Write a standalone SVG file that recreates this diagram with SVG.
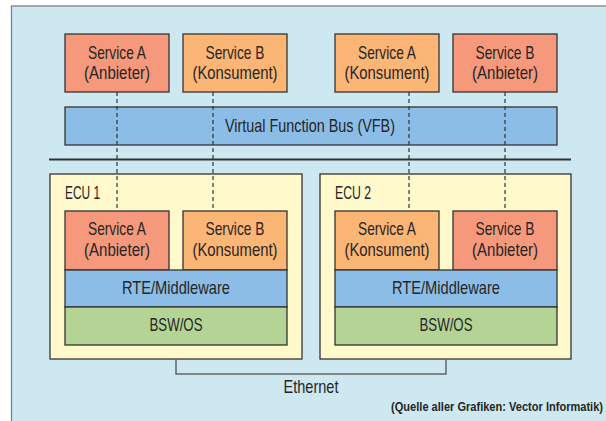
<svg xmlns="http://www.w3.org/2000/svg" width="606" height="421" viewBox="0 0 606 421">
<style>
text{font-family:"Liberation Sans Narrow","Liberation Sans",Arial,sans-serif;font-size:19px;fill:#262626;text-anchor:middle}
.box{stroke:#333;stroke-width:1.3}
.anb{fill:#f5987b}
.kon{fill:#fbb574}
.blue{fill:#8bbde6}
.green{fill:#b3d495}
.ecu{fill:#fff9cc}
.dash{stroke:#333;stroke-width:1.2;stroke-dasharray:4 3;fill:none}
.lbl{text-anchor:start}
.src{font-weight:bold;font-size:13.5px;text-anchor:end}
</style>
<rect x="11.5" y="6" width="600" height="420" fill="#cde8f0" stroke="#808080" stroke-width="1.3"/>
<g id="top-service-a-anbieter"><rect class="box anb" x="65" y="34" width="104" height="58"/><text x="117" y="59" textLength="58" lengthAdjust="spacingAndGlyphs">Service A</text><text x="117" y="79" textLength="66" lengthAdjust="spacingAndGlyphs">(Anbieter)</text></g>
<g id="top-service-b-konsument"><rect class="box kon" x="183" y="34" width="104" height="58"/><text x="235" y="59" textLength="59" lengthAdjust="spacingAndGlyphs">Service B</text><text x="235" y="79" textLength="85" lengthAdjust="spacingAndGlyphs">(Konsument)</text></g>
<g id="top-service-a-konsument"><rect class="box kon" x="335" y="34" width="104" height="58"/><text x="387" y="59" textLength="58" lengthAdjust="spacingAndGlyphs">Service A</text><text x="387" y="79" textLength="85" lengthAdjust="spacingAndGlyphs">(Konsument)</text></g>
<g id="top-service-b-anbieter"><rect class="box anb" x="453" y="34" width="104" height="58"/><text x="505" y="59" textLength="59" lengthAdjust="spacingAndGlyphs">Service B</text><text x="505" y="79" textLength="66" lengthAdjust="spacingAndGlyphs">(Anbieter)</text></g>
<g id="vfb"><rect class="box blue" x="65" y="107" width="492" height="38"/><text x="310" y="132" textLength="170" lengthAdjust="spacingAndGlyphs">Virtual Function Bus (VFB)</text></g>
<line x1="49" y1="159.5" x2="571" y2="159.5" stroke="#333" stroke-width="2"/>
<g id="ecu1"><rect class="box ecu" x="50" y="174" width="252" height="185"/><text class="lbl" x="65" y="199" textLength="35" lengthAdjust="spacingAndGlyphs">ECU 1</text></g>
<g id="ecu2"><rect class="box ecu" x="320" y="174" width="251" height="185"/><text class="lbl" x="335" y="199" textLength="36" lengthAdjust="spacingAndGlyphs">ECU 2</text></g>
<g id="connectors">
<line class="dash" x1="117" y1="92" x2="117" y2="211"/>
<line class="dash" x1="213" y1="92" x2="213" y2="211"/>
<line class="dash" x1="409" y1="92" x2="409" y2="211"/>
<line class="dash" x1="505" y1="92" x2="505" y2="211"/>
<path d="M176 359V374H446V359" fill="none" stroke="#666" stroke-width="1.5"/>
</g>
<g id="ecu1-service-a"><rect class="box anb" x="65" y="211" width="104" height="59"/><text x="117" y="235" textLength="58" lengthAdjust="spacingAndGlyphs">Service A</text><text x="117" y="256" textLength="66" lengthAdjust="spacingAndGlyphs">(Anbieter)</text></g>
<g id="ecu1-service-b"><rect class="box kon" x="183" y="211" width="104" height="59"/><text x="235" y="235" textLength="59" lengthAdjust="spacingAndGlyphs">Service B</text><text x="235" y="256" textLength="85" lengthAdjust="spacingAndGlyphs">(Konsument)</text></g>
<g id="ecu1-rte"><rect class="box blue" x="65" y="270" width="222" height="37"/><text x="176" y="294" textLength="108" lengthAdjust="spacingAndGlyphs">RTE/Middleware</text></g>
<g id="ecu1-bsw"><rect class="box green" x="65" y="307" width="222" height="38"/><text x="176" y="331" textLength="53" lengthAdjust="spacingAndGlyphs">BSW/OS</text></g>
<g id="ecu2-service-a"><rect class="box kon" x="335" y="211" width="104" height="59"/><text x="387" y="235" textLength="58" lengthAdjust="spacingAndGlyphs">Service A</text><text x="387" y="256" textLength="85" lengthAdjust="spacingAndGlyphs">(Konsument)</text></g>
<g id="ecu2-service-b"><rect class="box anb" x="453" y="211" width="104" height="59"/><text x="505" y="235" textLength="59" lengthAdjust="spacingAndGlyphs">Service B</text><text x="505" y="256" textLength="66" lengthAdjust="spacingAndGlyphs">(Anbieter)</text></g>
<g id="ecu2-rte"><rect class="box blue" x="335" y="270" width="222" height="37"/><text x="446" y="294" textLength="108" lengthAdjust="spacingAndGlyphs">RTE/Middleware</text></g>
<g id="ecu2-bsw"><rect class="box green" x="335" y="307" width="222" height="38"/><text x="446" y="331" textLength="53" lengthAdjust="spacingAndGlyphs">BSW/OS</text></g>
<text x="311" y="393" textLength="55" lengthAdjust="spacingAndGlyphs">Ethernet</text>
<text class="src" transform="translate(603 411) scale(0.82 1)" x="0" y="0">(Quelle aller Grafiken: Vector Informatik)</text>
</svg>
